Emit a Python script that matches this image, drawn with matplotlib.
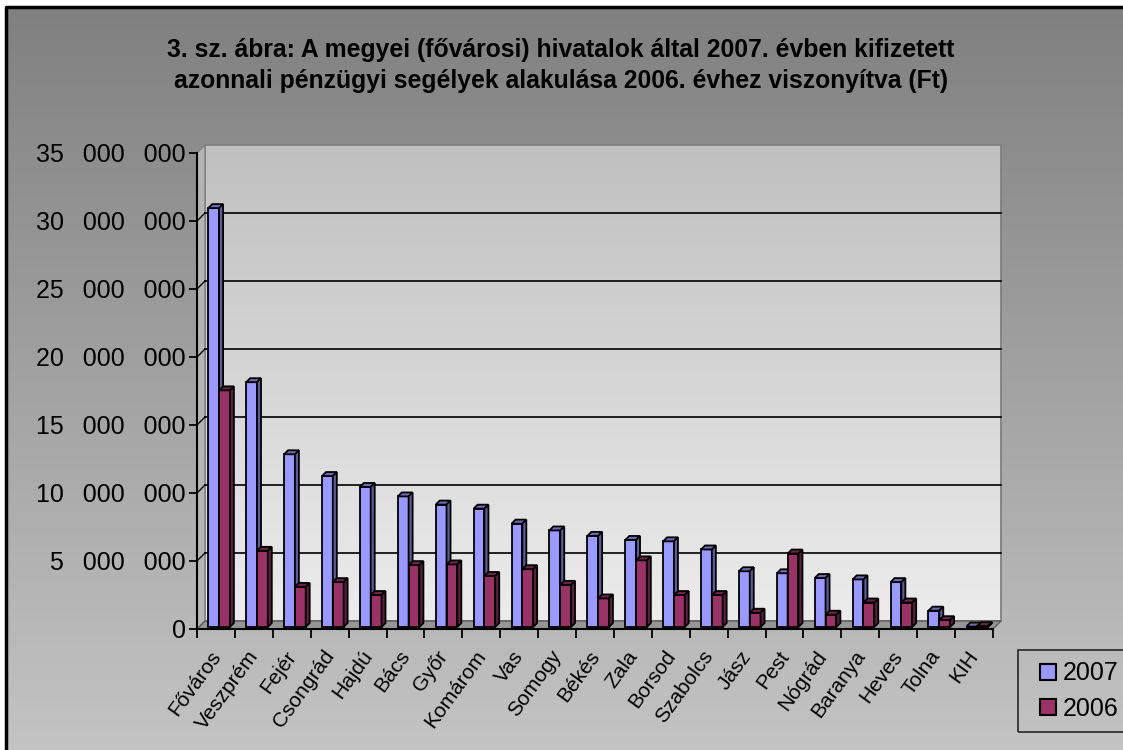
import numpy as np
import matplotlib
matplotlib.use('Agg')
import matplotlib.pyplot as plt
import matplotlib.colors as mcolors
from matplotlib.patches import Polygon
from matplotlib.lines import Line2D
from matplotlib.ticker import FixedLocator, FuncFormatter, NullFormatter

plt.rcParams['font.family'] = ['Liberation Sans', 'DejaVu Sans']

# ---------------- data ----------------
title_lines = ["3. sz. ábra: A megyei (fővárosi) hivatalok által 2007. évben kifizetett",
               "azonnali pénzügyi segélyek alakulása 2006. évhez viszonyítva (Ft)"]
categories = ["Főváros", "Veszprém", "Fejér", "Csongrád", "Hajdú", "Bács", "Győr",
              "Komárom", "Vas", "Somogy", "Békés", "Zala", "Borsod", "Szabolcs",
              "Jász", "Pest", "Nógrád", "Baranya", "Heves", "Tolna", "KIH"]
v2007 = [30.8e6, 18.0e6, 12.7e6, 11.1e6, 10.3e6, 9.6e6, 9.0e6, 8.7e6, 7.6e6, 7.1e6,
         6.7e6, 6.4e6, 6.3e6, 5.7e6, 4.1e6, 3.95e6, 3.6e6, 3.5e6, 3.3e6, 1.2e6, 0.03e6]
v2006 = [17.4e6, 5.6e6, 2.95e6, 3.3e6, 2.35e6, 4.55e6, 4.6e6, 3.75e6, 4.25e6, 3.1e6,
         2.1e6, 4.9e6, 2.35e6, 2.35e6, 1.05e6, 5.4e6, 0.9e6, 1.8e6, 1.8e6, 0.5e6, 0.06e6]
series_labels = ["2007", "2006"]
yticks = [0, 5e6, 10e6, 15e6, 20e6, 25e6, 30e6, 35e6]

# ---------------- style ----------------
W, H = 1123, 750
c_front = ['#9999FF', '#993366']
c_top = ['#6b6bb3', '#6b2447']
c_side = ['#5c5c99', '#5c1f3d']

fig = plt.figure(figsize=(W / 100, H / 100), dpi=100)
fig.patch.set_facecolor('white')

# chart area background (gradient) + border
bg = fig.add_axes([0, 0, 1, 1], zorder=-10)
grad = np.linspace(0, 1, 256).reshape(-1, 1)
cmap_bg = mcolors.LinearSegmentedColormap.from_list('bg', ['#808080', '#c9c9c9'])
bg.imshow(grad, cmap=cmap_bg, extent=(6, W + 60, H + 60, 7), aspect='auto', origin='upper')
bg.plot([6, 6, W + 60], [H + 60, 7, 7], color='black', lw=2.5, solid_capstyle='projecting')
bg.set_xlim(0, W)
bg.set_ylim(H, 0)
bg.axis('off')

# title
fig.text(561 / W, 1 - 50 / H, title_lines[0], ha='center', va='center',
         fontsize=17.8, fontweight='bold', color='black')
fig.text(561 / W, 1 - 81 / H, title_lines[1], ha='center', va='center',
         fontsize=17.8, fontweight='bold', color='black')

# main axes
ax = fig.add_axes([197 / W, (H - 629) / H, 796 / W, 476 / H])
ax.patch.set_visible(False)
n = len(categories)
ymax = yticks[-1]
sx = n / ax.bbox.width      # data units per pixel
sy = ymax / ax.bbox.height

def off(x, y, px, py):
    return (x + px * sx, y + py * sy)

D = 8  # wall depth in pixels
# back wall gradient
cmap_wall = mcolors.LinearSegmentedColormap.from_list('wall', ['#c0c0c0', '#ececec'])
x0w, y0w = off(0, 0, D, D)
x1w, y1w = off(n, ymax, D, D)
ax.imshow(grad, cmap=cmap_wall, extent=(x0w, x1w, y0w, y1w), aspect='auto',
          origin='upper', zorder=0, clip_on=False)
ax.add_patch(Polygon([(x0w, y0w), (x0w, y1w), (x1w, y1w), (x1w, y0w)], closed=True,
                     facecolor='none', edgecolor='#7f7f7f', lw=1.3, zorder=1, clip_on=False))
# left wall
ax.add_patch(Polygon([(0, 0), (0, ymax), off(0, ymax, D, D), off(0, 0, D, D)], closed=True,
                     facecolor='#b4b4b4', edgecolor='#7f7f7f', lw=1.0, zorder=1, clip_on=False))
# floor
ax.add_patch(Polygon([(0, 0), (n, 0), off(n, 0, D, D), off(0, 0, D, D)], closed=True,
                     facecolor='#969696', edgecolor='#5a5a5a', lw=1.0, zorder=1, clip_on=False))
# gridlines on back and left walls
for v in yticks[1:-1]:
    a = off(0, v, D, D)
    b = off(n, v, D, D)
    ax.plot([a[0], b[0]], [a[1], b[1]], color='black', lw=1.2, zorder=2, clip_on=False)
    ax.plot([0, a[0]], [v, a[1]], color='black', lw=1.0, zorder=2, clip_on=False)

# bars (pseudo 3D)
bw = 0.285
FD = 2   # front face offset (px)
BD = 4   # bar depth (px)
xs = np.arange(n)
handles = []
for k, vals in enumerate([v2007, v2006]):
    left = xs + 0.245 + k * bw + FD * sx
    base = FD * sy
    ax.bar(left, vals, width=bw, bottom=base, align='edge', color=c_front[k],
           edgecolor='black', linewidth=1.3, zorder=3 + k, clip_on=False)
    for xl, v in zip(left, vals):
        xr = xl + bw
        top = base + v
        ax.add_patch(Polygon([(xl, top), (xr, top), off(xr, top, BD, BD), off(xl, top, BD, BD)],
                             closed=True, facecolor=c_top[k], edgecolor='black', lw=1.3,
                             zorder=3 + k, clip_on=False))
        ax.add_patch(Polygon([(xr, base), (xr, top), off(xr, top, BD, BD), off(xr, base, BD, BD)],
                             closed=True, facecolor=c_side[k], edgecolor='black', lw=1.3,
                             zorder=3 + k, clip_on=False))
    handles.append(Line2D([], [], linestyle='none', marker='s', markersize=12,
                          markerfacecolor=c_front[k], markeredgecolor='black', markeredgewidth=1.5))

ax.set_xlim(0, n)
ax.set_ylim(0, ymax)

# axes styling
for s in ['top', 'right']:
    ax.spines[s].set_visible(False)
for s in ['left', 'bottom']:
    ax.spines[s].set_color('black')
    ax.spines[s].set_linewidth(1.5)
    ax.spines[s].set_zorder(6)

ax.yaxis.set_major_locator(FixedLocator(yticks))
ax.yaxis.set_major_formatter(FuncFormatter(
    lambda v, p: f"{int(round(v)):,}".replace(',', '\u2007\u2009')))
ax.tick_params(axis='y', which='major', direction='out', length=6, width=1.3,
               labelsize=18, pad=2, colors='black')

ax.xaxis.set_major_locator(FixedLocator(np.arange(n + 1)))
ax.xaxis.set_major_formatter(NullFormatter())
ax.xaxis.set_minor_locator(FixedLocator(xs + 0.5 - 7 * sx))
ax.set_xticklabels(categories, minor=True)
ax.tick_params(axis='x', which='major', direction='out', length=6.5, width=1.3)
ax.tick_params(axis='x', which='minor', length=0, pad=13, labelsize=15)
for lab in ax.get_xticklabels(minor=True):
    lab.set_rotation(54)
    lab.set_rotation_mode('anchor')
    lab.set_ha('right')
    lab.set_va('top')

# legend
leg = fig.legend(handles, series_labels, loc='upper left',
                 bbox_to_anchor=(1018 / W, (H - 650) / H - 0.2, 0.2, 0.2),
                 mode='expand', fontsize=18, frameon=True, fancybox=False,
                 handlelength=1.5, handletextpad=-0.15, borderpad=0.45,
                 labelspacing=0.45, borderaxespad=0)
leg.get_frame().set_edgecolor('black')
leg.get_frame().set_facecolor('none')
leg.get_frame().set_linewidth(1.2)

fig.savefig('out.png', dpi=100)
